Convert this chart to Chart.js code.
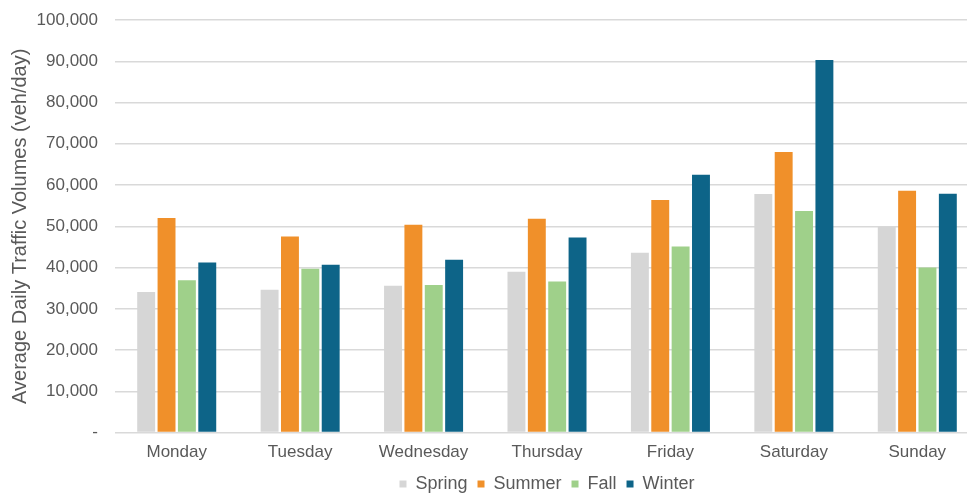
<!DOCTYPE html>
<html>
<head>
<meta charset="utf-8">
<script src="https://cdn.jsdelivr.net/npm/chart.js@4"></script>
<style>
  html, body { margin: 0; padding: 0; background: #fff; overflow: hidden; }
  #wrap { width: 979px; height: 505px; position: relative; }
</style>
</head>
<body>
<div id="wrap"><canvas id="barChart"></canvas></div>
<script>
// days of the week on the x axis
var days = ['Monday', 'Tuesday', 'Wednesday', 'Thursday', 'Friday', 'Saturday', 'Sunday'];

// average daily traffic volumes (veh/day) per season
var spring = [34100, 34600, 35600, 39000, 43600, 57800, 49900];
var summer = [52000, 47500, 50400, 51800, 56400, 68000, 58600];
var fall   = [36900, 39700, 35800, 36600, 45100, 53700, 40000];
var winter = [41200, 40700, 41900, 47300, 62500, 90300, 57900];

var seasonNames = ['Spring', 'Summer', 'Fall', 'Winter'];
var seasonColors = ['#d6d6d6', '#f0902a', '#9fd08a', '#0d6488'];

var yMin = 0, yMax = 100000, yStep = 10000;

var series = [spring, summer, fall, winter];
var datasets = series.map(function (vals, i) {
    return {
        label: seasonNames[i],
        data: vals,
        backgroundColor: seasonColors[i],
        borderWidth: 0,
        barPercentage: 0.88,
        categoryPercentage: 0.66
    };
});

var textColor = '#595959';
var fontFamily = 'Arial, "Liberation Sans", sans-serif';

new Chart(document.getElementById('barChart').getContext('2d'), {
    type: 'bar',
    data: { labels: days, datasets: datasets },
    options: {
        responsive: true,
        maintainAspectRatio: false,
        animation: false,
        layout: { padding: { top: 0, left: 8, right: 0, bottom: 2 } },
        plugins: {
            tooltip: { enabled: false },
            legend: {
                position: 'bottom',
                fullSize: false,
                labels: {
                    boxWidth: 7,
                    boxHeight: 7,
                    padding: 10,
                    color: textColor,
                    font: { family: fontFamily, size: 18 }
                }
            }
        },
        scales: {
            x: {
                grid: { display: false },
                border: { display: false },
                ticks: {
                    color: textColor,
                    padding: 2,
                    font: { family: fontFamily, size: 17 }
                }
            },
            y: {
                min: yMin,
                max: yMax,
                border: { display: false },
                grid: { color: '#d9d9d9', lineWidth: 1.5, drawTicks: false },
                ticks: {
                    stepSize: yStep,
                    padding: 17,
                    color: textColor,
                    font: { family: fontFamily, size: 17 },
                    callback: function (v) {
                        return v === 0 ? '-' : v.toLocaleString('en-US');
                    }
                },
                title: {
                    display: true,
                    text: 'Average Daily Traffic Volumes (veh/day)',
                    color: textColor,
                    padding: 0,
                    font: { family: fontFamily, size: 20 }
                },
                // keep the axis as narrow as in the original, and the top gridline 20px down
                afterFit: function (scale) {
                    scale.width = 107;
                    scale.paddingTop = 20;
                }
            }
        }
    }
});
</script>
</body>
</html>
